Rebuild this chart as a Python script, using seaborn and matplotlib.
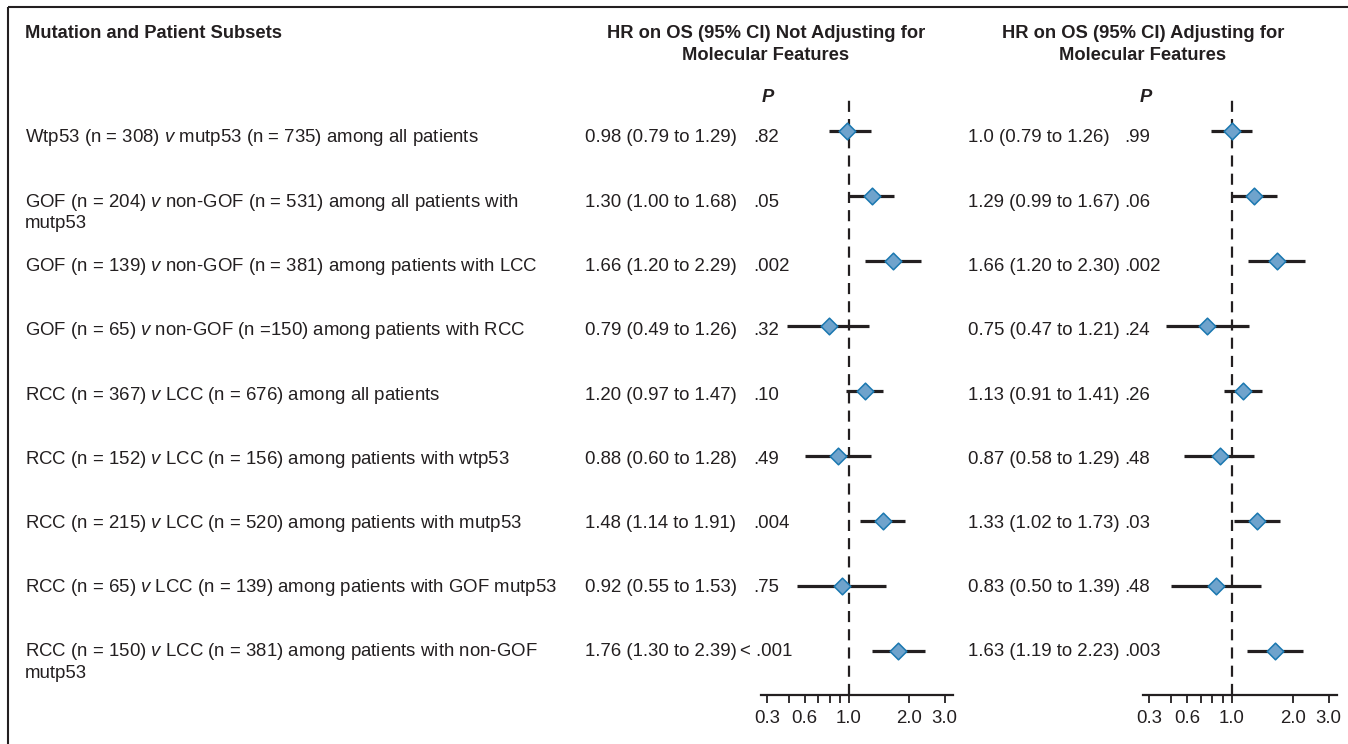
import numpy as np
import pandas as pd
import matplotlib
matplotlib.use("Agg")
import matplotlib.pyplot as plt
import seaborn as sns

# ---------------- data ----------------
labels = [
    "Wtp53 (n = 308) $\\mathit{v}$ mutp53 (n = 735) among all patients",
    "GOF (n = 204) $\\mathit{v}$ non-GOF (n = 531) among all patients with\nmutp53",
    "GOF (n = 139) $\\mathit{v}$ non-GOF (n = 381) among patients with LCC",
    "GOF (n = 65) $\\mathit{v}$ non-GOF (n =150) among patients with RCC",
    "RCC (n = 367) $\\mathit{v}$ LCC (n = 676) among all patients",
    "RCC (n = 152) $\\mathit{v}$ LCC (n = 156) among patients with wtp53",
    "RCC (n = 215) $\\mathit{v}$ LCC (n = 520) among patients with mutp53",
    "RCC (n = 65) $\\mathit{v}$ LCC (n = 139) among patients with GOF mutp53",
    "RCC (n = 150) $\\mathit{v}$ LCC (n = 381) among patients with non-GOF\nmutp53",
]
hr_unadj = [0.98, 1.30, 1.66, 0.79, 1.20, 0.88, 1.48, 0.92, 1.76]
lo_unadj = [0.79, 1.00, 1.20, 0.49, 0.97, 0.60, 1.14, 0.55, 1.30]
hi_unadj = [1.29, 1.68, 2.29, 1.26, 1.47, 1.28, 1.91, 1.53, 2.39]
hr_unadj_txt = ["0.98", "1.30", "1.66", "0.79", "1.20", "0.88", "1.48", "0.92", "1.76"]
lo_unadj_txt = ["0.79", "1.00", "1.20", "0.49", "0.97", "0.60", "1.14", "0.55", "1.30"]
hi_unadj_txt = ["1.29", "1.68", "2.29", "1.26", "1.47", "1.28", "1.91", "1.53", "2.39"]
p_unadj = [".82", ".05", ".002", ".32", ".10", ".49", ".004", ".75", "< .001"]

hr_adj = [1.00, 1.29, 1.66, 0.75, 1.13, 0.87, 1.33, 0.83, 1.63]
lo_adj = [0.79, 0.99, 1.20, 0.47, 0.91, 0.58, 1.02, 0.50, 1.19]
hi_adj = [1.26, 1.67, 2.30, 1.21, 1.41, 1.29, 1.73, 1.39, 2.23]
hr_adj_txt = ["1.0", "1.29", "1.66", "0.75", "1.13", "0.87", "1.33", "0.83", "1.63"]
lo_adj_txt = ["0.79", "0.99", "1.20", "0.47", "0.91", "0.58", "1.02", "0.50", "1.19"]
hi_adj_txt = ["1.26", "1.67", "2.30", "1.21", "1.41", "1.29", "1.73", "1.39", "2.23"]
p_adj = [".99", ".06", ".002", ".24", ".26", ".48", ".03", ".48", ".003"]

tick_values = [0.39, 0.5, 0.6, 0.7, 0.8, 0.9, 1.0, 2.0, 3.0]
tick_labels = ["0.3", "", "0.6", "", "", "", "1.0", "2.0", "3.0"]

header_subsets = "Mutation and Patient Subsets"
header_unadj = "HR on OS (95% CI) Not Adjusting for\nMolecular Features"
header_adj = "HR on OS (95% CI) Adjusting for\nMolecular Features"

# ---------------- style ----------------
sns.set_style("white")
plt.rcParams["font.family"] = ["Liberation Sans", "DejaVu Sans"]
plt.rcParams["mathtext.fontset"] = "custom"
plt.rcParams["mathtext.rm"] = "Liberation Sans"
plt.rcParams["mathtext.it"] = "Liberation Sans:italic"

INK = "#231f20"
FILL = "#6fa3cc"
EDGE = "#1a78b0"
FS = 13.4
FSH = 13.2
W, H = 1348, 744

fig = plt.figure(figsize=(W / 100, H / 100), dpi=100)
fig.patch.set_facecolor("white")

# overlay axes in pixel coordinates
ov = fig.add_axes([0, 0, 1, 1])
ov.set_xlim(0, W)
ov.set_ylim(H, 0)
ov.axis("off")

# frame (left and top)
ov.plot([8, 8], [7, H], color=INK, lw=1.5, solid_capstyle="butt")
ov.plot([8, W], [7, 7], color=INK, lw=1.5, solid_capstyle="butt")

n = len(labels)
rows = np.arange(n)
TEXT_Y0, TEXT_DY = 138, 64.25
LINE_H = 21.5

# headers
ov.text(25, 34, header_subsets, fontsize=FSH, fontweight="bold", color=INK, va="center", ha="left")
for hx, htxt in [(766, header_unadj), (1143, header_adj)]:
    for k, line in enumerate(htxt.split("\n")):
        ov.text(hx, 34 + 22 * k, line, fontsize=FSH, fontweight="bold", color=INK, va="center", ha="center")
for px in (768, 1146):
    ov.text(px, 98, "P", fontsize=FSH, fontweight="bold", style="italic", color=INK, va="center", ha="center")

# row texts
for i in rows:
    ty = TEXT_Y0 + TEXT_DY * i
    for k, line in enumerate(labels[i].split("\n")):
        ov.text(25, ty + LINE_H * k, line, fontsize=FS, color=INK, va="center", ha="left")
    ov.text(585, ty, f"{hr_unadj_txt[i]} ({lo_unadj_txt[i]} to {hi_unadj_txt[i]})",
            fontsize=FS, color=INK, va="center", ha="left")
    p = p_unadj[i]
    ov.text(740 if p.startswith("<") else 753, ty, p, fontsize=FS, color=INK, va="center", ha="left")
    ov.text(968, ty, f"{hr_adj_txt[i]} ({lo_adj_txt[i]} to {hi_adj_txt[i]})",
            fontsize=FS, color=INK, va="center", ha="left")
    ov.text(1124, ty, p_adj[i], fontsize=FS, color=INK, va="center", ha="left")

# forest panels
ROW_Y0, ROW_DY = 131, 65
TOP, BOT = 97, 695
XMIN, XMAX = 0.3637, 3.30


def forest(left, right, hr, lo, hi):
    ax = fig.add_axes([left / W, 1 - BOT / H, (right - left) / W, (BOT - TOP) / H])
    ax.set_facecolor("none")
    ax.set_xscale("log")
    ax.set_xlim(XMIN, XMAX)
    ax.set_ylim((BOT - ROW_Y0) / ROW_DY, (TOP - ROW_Y0) / ROW_DY)
    ax.axvline(1.0, color=INK, lw=1.6, ls=(0, (5, 3.2)), zorder=1)
    ax.hlines(rows, lo, hi, color=INK, lw=2.3, zorder=2)
    df = pd.DataFrame({"hr": hr, "row": rows})
    sns.scatterplot(data=df, x="hr", y="row", marker="D", s=72, color=FILL,
                    edgecolor=EDGE, linewidth=1.1, zorder=3, ax=ax, legend=False)
    ax.set_ylim((BOT - ROW_Y0) / ROW_DY, (TOP - ROW_Y0) / ROW_DY)
    ax.set_xlabel("")
    ax.set_ylabel("")
    ax.set_yticks([])
    ax.xaxis.set_minor_locator(matplotlib.ticker.NullLocator())
    ax.set_xticks(tick_values)
    ax.set_xticklabels(tick_labels, fontsize=FS, color=INK)
    ax.tick_params(axis="x", which="major", direction="out", length=6, width=1.3,
                   color=INK, pad=5, bottom=True)
    for s in ("top", "right", "left"):
        ax.spines[s].set_visible(False)
    ax.spines["bottom"].set_color(INK)
    ax.spines["bottom"].set_linewidth(1.6)
    return ax


forest(761, 953, hr_unadj, lo_unadj, hi_unadj)
forest(1143, 1337, hr_adj, lo_adj, hi_adj)

fig.savefig("out.png", dpi=100)
